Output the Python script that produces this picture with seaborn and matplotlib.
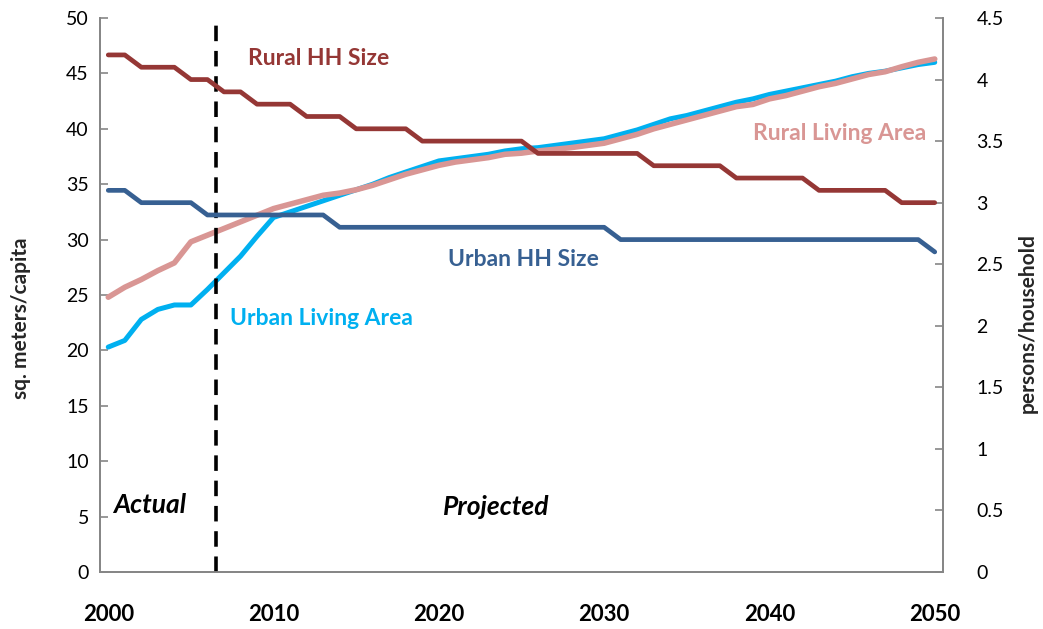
import matplotlib
matplotlib.use("Agg")
import matplotlib.pyplot as plt
import seaborn as sns
import pandas as pd
from matplotlib.ticker import FuncFormatter, MultipleLocator

# ---------------- data ----------------
years = list(range(2000, 2051))

urban_living_area = [20.3, 20.9, 22.8, 23.7, 24.1, 24.1, 25.5, 27.0, 28.5, 30.3,
                     32.0, 32.5, 33.0, 33.5, 34.0, 34.5, 35.0, 35.6, 36.1, 36.6,
                     37.1, 37.3, 37.5, 37.7, 38.0, 38.2, 38.3, 38.5, 38.7, 38.9,
                     39.1, 39.5, 39.9, 40.4, 40.9, 41.2, 41.6, 42.0, 42.4, 42.7,
                     43.1, 43.4, 43.7, 44.0, 44.3, 44.7, 45.0, 45.2, 45.5, 45.8,
                     46.0]

rural_living_area = [24.8, 25.7, 26.4, 27.2, 27.9, 29.8, 30.4, 31.0, 31.6, 32.2,
                     32.8, 33.2, 33.6, 34.0, 34.2, 34.5, 34.9, 35.4, 35.9, 36.3,
                     36.7, 37.0, 37.2, 37.4, 37.7, 37.8, 38.0, 38.15, 38.3, 38.5,
                     38.7, 39.1, 39.5, 40.0, 40.4, 40.8, 41.2, 41.6, 42.0, 42.2,
                     42.7, 43.0, 43.4, 43.8, 44.1, 44.5, 44.9, 45.15, 45.6, 46.0,
                     46.3]

rural_hh_size = [4.2, 4.2, 4.1, 4.1, 4.1, 4.0, 4.0, 3.9, 3.9, 3.8,
                 3.8, 3.8, 3.7, 3.7, 3.7, 3.6, 3.6, 3.6, 3.6, 3.5,
                 3.5, 3.5, 3.5, 3.5, 3.5, 3.5, 3.4, 3.4, 3.4, 3.4,
                 3.4, 3.4, 3.4, 3.3, 3.3, 3.3, 3.3, 3.3, 3.2, 3.2,
                 3.2, 3.2, 3.2, 3.1, 3.1, 3.1, 3.1, 3.1, 3.0, 3.0,
                 3.0]

urban_hh_size = [3.1, 3.1, 3.0, 3.0, 3.0, 3.0, 2.9, 2.9, 2.9, 2.9,
                 2.9, 2.9, 2.9, 2.9, 2.8, 2.8, 2.8, 2.8, 2.8, 2.8,
                 2.8, 2.8, 2.8, 2.8, 2.8, 2.8, 2.8, 2.8, 2.8, 2.8,
                 2.8, 2.7, 2.7, 2.7, 2.7, 2.7, 2.7, 2.7, 2.7, 2.7,
                 2.7, 2.7, 2.7, 2.7, 2.7, 2.7, 2.7, 2.7, 2.7, 2.7,
                 2.6]

x_tick_years = [2000, 2010, 2020, 2030, 2040, 2050]
transition_year = 2006.5

area_df = pd.DataFrame({"year": years,
                        "Urban Living Area": urban_living_area,
                        "Rural Living Area": rural_living_area})
hh_df = pd.DataFrame({"year": years,
                      "Urban HH Size": urban_hh_size,
                      "Rural HH Size": rural_hh_size})

# ---------------- style ----------------
sns.set_theme(style="white")
plt.rcParams["font.family"] = ["Lato", "DejaVu Sans"]

C_RURAL_HH = "#953735"
C_URBAN_HH = "#376092"
C_URBAN_AREA = "#00B0F0"
C_RURAL_AREA = "#D99694"
C_SPINE = "#868686"

fig = plt.figure(figsize=(10.43, 6.29), dpi=100)
ax = fig.add_axes([100 / 1043, 1 - 572 / 629, 843 / 1043, 554 / 629])
ax2 = ax.twinx()

sns.lineplot(data=area_df, x="year", y="Urban Living Area", ax=ax,
             color=C_URBAN_AREA, linewidth=3.6, zorder=3)
sns.lineplot(data=area_df, x="year", y="Rural Living Area", ax=ax,
             color=C_RURAL_AREA, linewidth=4.0, zorder=4)
sns.lineplot(data=hh_df, x="year", y="Urban HH Size", ax=ax2,
             color=C_URBAN_HH, linewidth=3.4, zorder=3)
sns.lineplot(data=hh_df, x="year", y="Rural HH Size", ax=ax2,
             color=C_RURAL_HH, linewidth=3.4, zorder=4)

ax.axvline(transition_year, color="black", linewidth=2.6,
           linestyle=(0, (4.3, 2.7)), zorder=5)

# ---------------- axes ----------------
ax.set_xlim(1999.5, 2050.5)
ax.set_ylim(0, 50)
ax2.set_ylim(0, 4.5)
ax.yaxis.set_major_locator(MultipleLocator(5))
ax2.yaxis.set_major_locator(MultipleLocator(0.5))
ax2.yaxis.set_major_formatter(FuncFormatter(lambda v, p: f"{v:g}"))
ax.set_xticks(x_tick_years)
ax.set_xticklabels([str(y) for y in x_tick_years],
                   fontweight="bold", fontsize=16)

ax.tick_params(axis="x", length=0, pad=23, colors="black")
ax.tick_params(axis="y", direction="in", length=6, width=1.2,
               color=C_SPINE, labelsize=14, pad=8, labelcolor="black")
ax2.tick_params(axis="y", direction="in", length=6, width=1.2,
                color=C_SPINE, labelsize=14, pad=24, labelcolor="black")

for a in (ax, ax2):
    a.spines["top"].set_visible(False)
    for s in ("left", "right", "bottom"):
        a.spines[s].set_color(C_SPINE)
        a.spines[s].set_linewidth(1.3)
    a.grid(False)

ax.set_xlabel("")
ax.set_ylabel("sq. meters/capita", fontsize=15, fontweight="bold")
ax2.set_ylabel("persons/household", fontsize=15, fontweight="bold")
ax.yaxis.set_label_coords(-0.082, 0.458)
ax2.yaxis.set_label_coords(1.089, 0.449)

# ---------------- annotations ----------------
lab = dict(fontsize=16.5, fontweight="bold", ha="center", va="center")
ax.text(2012.7, 46.3, "Rural HH Size", color=C_RURAL_HH, **lab)
ax.text(2025.1, 28.2, "Urban HH Size", color=C_URBAN_HH, **lab)
ax.text(2044.25, 39.6, "Rural Living Area", color=C_RURAL_AREA, **lab)
ax.text(2012.9, 22.9, "Urban Living Area", color=C_URBAN_AREA, **lab)
lab2 = dict(fontsize=19, fontweight="bold", ha="center", va="center",
            style="italic", color="black")
ax.text(2002.5, 6.05, "Actual", **lab2)
ax.text(2023.45, 5.9, "Projected", **lab2)

ax.set_zorder(ax2.get_zorder() - 1)
ax.patch.set_visible(False)

fig.savefig("out.png", dpi=100)
